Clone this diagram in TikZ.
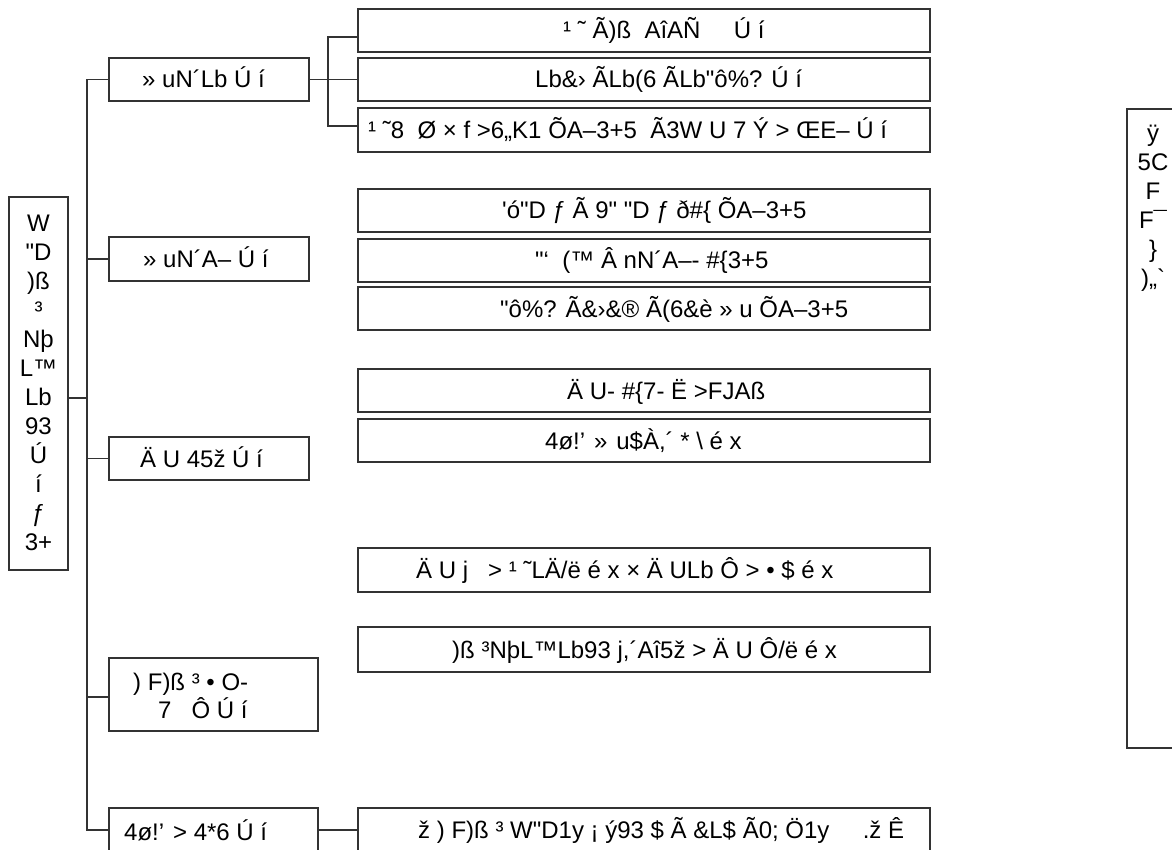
\documentclass[tikz,border=0pt]{standalone}
\usepackage{fontspec}
\newfontfamily\lib{Liberation Sans}
\begin{document}
\begin{tikzpicture}[x=1pt,y=-1pt,
  box/.style={draw=black!80, line width=1.3pt, rectangle, inner sep=0pt},
  gbox/.style={box, minimum width=572pt, minimum height=43pt},
  txt/.style={anchor=base west, inner sep=0pt, font=\lib\fontsize{24}{29}\selectfont},
  ctxt/.style={anchor=base, inner sep=0pt, font=\lib\fontsize{24}{29}\selectfont},
  ln/.style={draw=black!80, line width=1.3pt, line join=miter}]
\useasboundingbox (0,0) rectangle (1172,850);
% boxes
\node[box, minimum width=59pt, minimum height=373pt] (root) at (38.5,383.5) {};
\node[box, minimum width=200pt, minimum height=43pt] (b1) at (209,79.5) {};
\node[box, minimum width=200pt, minimum height=44pt] (b2) at (209,259) {};
\node[box, minimum width=200pt, minimum height=43pt] (b3) at (209,458.5) {};
\node[box, minimum width=209pt, minimum height=73pt] (b4) at (213.5,694.5) {};
\node[box, minimum width=209pt, minimum height=44pt] (b5) at (213.5,830) {};
\node[gbox] (g1a) at (644,30.5) {};
\node[gbox] (g1b) at (644,79.5) {};
\node[gbox, minimum height=44pt] (g1c) at (644,130) {};
\node[gbox] (g2a) at (644,210.5) {};
\node[gbox] (g2b) at (644,260.5) {};
\node[gbox] (g2c) at (644,308.5) {};
\node[gbox] (g3a) at (644,390.5) {};
\node[gbox] (g3b) at (644,440.5) {};
\node[gbox, minimum height=44pt] (L1) at (644,570) {};
\node[gbox, minimum height=45pt] (L2) at (644,649.5) {};
\node[gbox, minimum height=44pt] (L3) at (644,830) {};
\node[box, minimum width=63pt, minimum height=639pt] (R) at (1158.5,428.5) {};
% connectors
\coordinate (tr) at (87,398);
\coordinate (br) at (328,79.5);
\draw[ln] (root.east |- tr) -- (tr);
\draw[ln] (b1.west) -- (b1.west -| tr) -- (b5.west -| tr) -- (b5.west);
\draw[ln] (b2.west -| tr) -- (b2.west);
\draw[ln] (b3.west -| tr) -- (b3.west);
\draw[ln] ([yshift=-2.5pt]b4.west -| tr) -- ([yshift=-2.5pt]b4.west);
\draw[ln] (b1.east) -- (br) -- (g1b.west);
\draw[ln] ([yshift=-6.5pt]g1a.west) -- ([yshift=-6.5pt]g1a.west -| br) -- ([yshift=4pt]g1c.west -| br) -- ([yshift=4pt]g1c.west);
\draw[ln] (b5.east) -- (L3.west);
% root text
\node[ctxt] (r1) at (38.5,231.5) {W};
\node[ctxt] (r2) at (38.5,260.5) {"D};
\node[ctxt] (r3) at (38.5,289.5) {)ß};
\node[ctxt] (r4) at (38.5,318.5) {³};
\node[ctxt] (r5) at (38.5,347.5) {Nþ};
\node[ctxt] (r6) at (38.5,376.5) {L™};
\node[ctxt] (r7) at (38.5,405.5) {Lb};
\node[ctxt] (r8) at (38.5,434.5) {93};
\node[ctxt] (r9) at (38.5,463.5) {Ú};
\node[ctxt] (r10) at (38.5,492.5) {í};
\node[ctxt] (r11) at (38.5,521.5) {ƒ};
\node[ctxt] (r12) at (38.5,550.5) {3+};
% second level text
\node[txt] (t1) at (142,88) {» uN´Lb Ú í};
\node[txt] (t2) at (143,267.5) {» uN´A– Ú í};
\node[txt] (t3) at (140,467) {Ä U 45ž Ú í};
\node[txt] (t4a) at (133,690.5) {) F)ß ³ • O-};
\node[txt] (t4b) at (158,718.5) {7\ \ \ Ô Ú í};
\node[txt] (t5) at (124,840) {4ø!’ > 4*6 Ú í};
% third level text
\node[txt] (u1) at (563,39) {¹ ˜ Ã)ß\ \ AîAÑ\ \ \ \ \ Ú í};
\node[txt] (u2) at (535,88) {Lb\&› ÃLb(6 ÃLb"ô\%? Ú í};
\node[txt] (u3) at (368,138.5) {¹ ˜8\ \ Ø × f >6„K1 ÕA–3+5\ \ Ã3W U 7 Ý > ŒE– Ú í};
\node[txt] (u4) at (502,219) {'ó"D ƒ Ã 9" "D ƒ ð\#\{ ÕA–3+5};
\node[txt] (u5) at (535,269) {"‘\ \ (™ Â nN´A–- \#\{3+5};
\node[txt] (u6) at (500,317) {"ô\%? Ã\&›\&® Ã(6\&è » u ÕA–3+5};
\node[txt] (u7) at (567,399) {Ä U- \#\{7- Ë >FJAß};
\node[txt] (u8) at (545,449) {4ø!’ » u\$À,´ * \textbackslash\ é x};
\node[txt] (u9) at (416,578.5) {Ä U j\ \ \ > ¹ ˜LÄ/ë é x × Ä ULb Ô > • \$ é x};
\node[txt] (u10) at (452,658) {)ß ³NþL™Lb93 j,´Aî5ž > Ä U Ô/ë é x};
\node[txt] (u11) at (418,838.5) {ž ) F)ß ³ W"D1y ¡ ý93 \$ Ã \&L\$ Ã0; Ö1y\ \ \ \ \ .ž Ê};
% right text
\node[ctxt] (s1) at (1153,141.5) {ÿ};
\node[ctxt] (s2) at (1153,170.5) {5C};
\node[ctxt] (s3) at (1153,199.5) {F};
\node[ctxt] (s4) at (1153,228.5) {F¯};
\node[ctxt] (s5) at (1153,257.5) {\}};
\node[ctxt] (s6) at (1153,286.5) {)„`};
\end{tikzpicture}
\end{document}
